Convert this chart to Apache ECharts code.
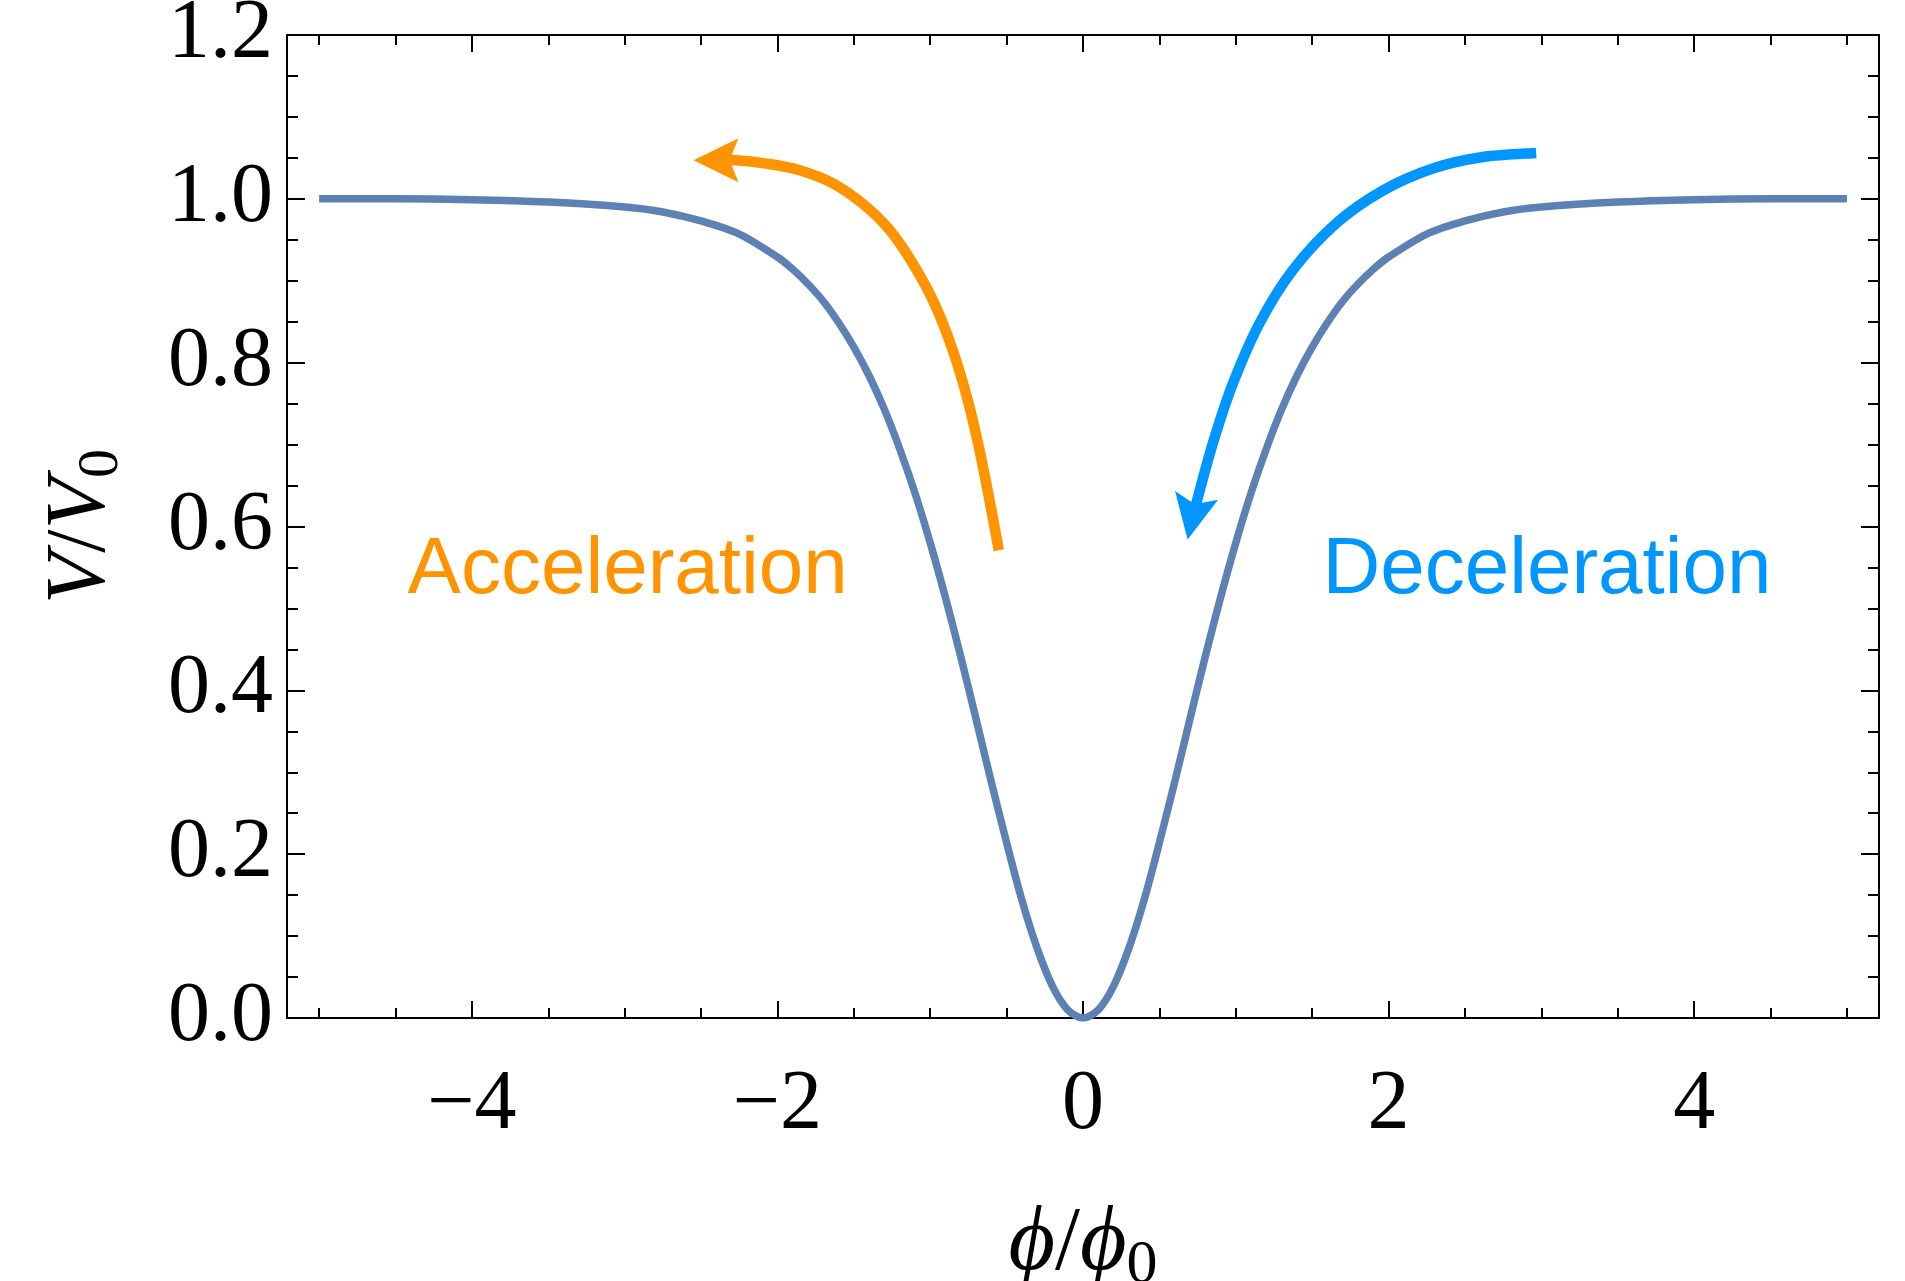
<!DOCTYPE html>
<html><head><meta charset="utf-8">
<script src="https://cdn.jsdelivr.net/npm/echarts@6/dist/echarts.min.js"></script>
<style>html,body{margin:0;padding:0;background:#fff}#c{width:1905px;height:1281px}</style>
</head><body><div id="c"></div>
<script>
// ---- data ----
const phi = [-5,-4.5,-4,-3.5,-3,-2.75,-2.5,-2.25,-2,-1.9,-1.8,-1.7,-1.6,-1.5,-1.4,-1.3,-1.2,-1.1,-1,-0.9,-0.8,-0.7,-0.6,-0.5,-0.4,-0.3,-0.2,-0.1,0,
             0.1,0.2,0.3,0.4,0.5,0.6,0.7,0.8,0.9,1,1.1,1.2,1.3,1.4,1.5,1.6,1.7,1.8,1.9,2,2.25,2.5,2.75,3,3.5,4,4.5,5];
const V   = [1.000,1.000,0.999,0.996,0.990,0.984,0.973,0.957,0.929,0.914,0.896,0.875,0.849,0.819,0.784,0.743,0.695,0.641,0.580,0.513,0.441,0.365,0.288,0.214,0.144,0.085,0.039,0.010,0,
             0.010,0.039,0.085,0.144,0.214,0.288,0.365,0.441,0.513,0.580,0.641,0.695,0.743,0.784,0.819,0.849,0.875,0.896,0.914,0.929,0.957,0.973,0.984,0.990,0.996,0.999,1.000,1.000];

const accelArrowX = [-0.551,-0.612,-0.677,-0.754,-0.852,-0.972,-1.114,-1.266,-1.441,-1.637,-1.855,-2.073,-2.270,-2.402];
const accelArrowY = [0.571,0.632,0.693,0.754,0.815,0.872,0.921,0.962,0.994,1.019,1.035,1.043,1.047,1.047];
const decelArrowX = [2.966,2.617,2.289,1.962,1.657,1.373,1.155,0.980,0.849,0.741,0.714];
const decelArrowY = [1.056,1.051,1.037,1.010,0.970,0.913,0.848,0.774,0.701,0.628,0.611];

const xTickLabels = [-4,-2,0,2,4];
const yTickLabels = [0,0.2,0.4,0.6,0.8,1.0,1.2];
const annotationTexts = ['Acceleration','Deceleration'];

// ---- styles / layout ----
const BLACK = '#000';
const ORANGE = '#FF9300';
const BLUE = '#0096FF';
const CURVE = '#5E81B5';
const SERIF = '"Liberation Serif","Times New Roman",serif';
const SANS = '"Liberation Sans",Arial,Helvetica,sans-serif';
const ARROW_HEAD = 'path://M22,0 L44,45 L22,36 L0,45 Z';

const pairs = (xs, ys) => xs.map((x, i) => [x, ys[i]]);
const arrowPaths = [pairs(accelArrowX, accelArrowY), pairs(decelArrowX, decelArrowY)];
const arrowColors = [ORANGE, BLUE];

// smooth curve (Catmull-Rom) through pixel points given by the axes
function smoothPath(pts) {
  let d = 'M' + pts[0][0] + ',' + pts[0][1];
  for (let i = 0; i < pts.length - 1; i++) {
    const p0 = pts[i - 1] || pts[i], p1 = pts[i], p2 = pts[i + 1], p3 = pts[i + 2] || pts[i + 1];
    const c1 = [p1[0] + (p2[0] - p0[0]) / 6, p1[1] + (p2[1] - p0[1]) / 6];
    const c2 = [p2[0] - (p3[0] - p1[0]) / 6, p2[1] - (p3[1] - p1[1]) / 6];
    d += ' C' + c1[0] + ',' + c1[1] + ' ' + c2[0] + ',' + c2[1] + ' ' + p2[0] + ',' + p2[1];
  }
  return d;
}

const chart = echarts.init(document.getElementById('c'), null, {renderer: 'canvas'});

const tickCommon = {
  axisLine: {show: true, onZero: false, lineStyle: {color: BLACK, width: 2}},
  axisTick: {show: true, inside: true, lineStyle: {color: BLACK, width: 2}},
  minorTick: {show: true, splitNumber: 4, lineStyle: {color: BLACK, width: 2}},
  splitLine: {show: false},
  minorSplitLine: {show: false}
};

const yNameRich = {
  i: {fontFamily: SERIF, fontStyle: 'italic', fontSize: 84, lineHeight: 84, verticalAlign: 'top', color: BLACK},
  n: {fontFamily: SERIF, fontSize: 84, lineHeight: 84, verticalAlign: 'top', color: BLACK},
  s: {fontFamily: SERIF, fontSize: 58, verticalAlign: 'top', padding: [33, 0, 0, 0], color: BLACK}
};
const xNameRich = {
  i: {fontFamily: SERIF, fontStyle: 'italic', fontSize: 90, lineHeight: 90, verticalAlign: 'top', color: BLACK},
  n: {fontFamily: SERIF, fontSize: 90, lineHeight: 90, verticalAlign: 'top', color: BLACK},
  s: {fontFamily: SERIF, fontSize: 62, verticalAlign: 'top', padding: [35, 0, 0, 0], color: BLACK}
};

const xFmt = v => xTickLabels.indexOf(v) >= 0 ? (v < 0 ? '\u2212' + Math.abs(v) : String(v)) : '';
const yFmt = v => yTickLabels.some(t => Math.abs(t - v) < 1e-9) ? v.toFixed(1) : '';

const option = {
  animation: false,
  backgroundColor: '#fff',
  grid: {left: 287, right: 26, top: 35, bottom: 263, containLabel: false, outerBoundsMode: 'none'},
  xAxis: [
    Object.assign({}, tickCommon, {
      type: 'value', position: 'bottom', min: -5.21, max: 5.21,
      axisTick: Object.assign({}, tickCommon.axisTick, {length: 17}),
      minorTick: Object.assign({}, tickCommon.minorTick, {length: 10}),
      axisLabel: {show: true, formatter: xFmt, showMinLabel: false, showMaxLabel: false,
        margin: 46, fontFamily: SERIF, fontSize: 84, color: BLACK},
      name: '{i|\u03D5}{n|/}{i|\u03D5}{s|0}', nameLocation: 'middle', nameGap: 182,
      nameTextStyle: {rich: xNameRich, fontFamily: SERIF, fontSize: 90}
    }),
    Object.assign({}, tickCommon, {
      type: 'value', position: 'top', min: -5.21, max: 5.21,
      axisTick: Object.assign({}, tickCommon.axisTick, {length: 17}),
      minorTick: Object.assign({}, tickCommon.minorTick, {length: 10}),
      axisLabel: {show: false}
    })
  ],
  yAxis: [
    Object.assign({}, tickCommon, {
      type: 'value', position: 'left', min: 0, max: 1.2, interval: 0.2,
      axisTick: Object.assign({}, tickCommon.axisTick, {length: 18}),
      minorTick: Object.assign({}, tickCommon.minorTick, {length: 11}),
      axisLabel: {show: true, formatter: yFmt, margin: 14, fontFamily: SERIF, fontSize: 84, color: BLACK},
      name: '{i|V}{n|/}{i|V}{s|0}', nameLocation: 'middle', nameGap: 156,
      nameTextStyle: {rich: yNameRich, fontFamily: SERIF, fontSize: 84}
    }),
    Object.assign({}, tickCommon, {
      type: 'value', position: 'right', min: 0, max: 1.2, interval: 0.2,
      axisTick: Object.assign({}, tickCommon.axisTick, {length: 18}),
      minorTick: Object.assign({}, tickCommon.minorTick, {length: 11}),
      axisLabel: {show: false}
    })
  ],
  series: [
    {
      type: 'line', name: 'V', data: pairs(phi, V), showSymbol: false, symbol: 'none',
      smooth: 0.3,
      lineStyle: {color: CURVE, width: 7.5, cap: 'butt', opacity: 1}, z: 3
    },
    {
      type: 'custom', name: 'arrows', coordinateSystem: 'cartesian2d', z: 4,
      data: arrowPaths.map(p => p[0]),
      encode: {x: 0, y: 1},
      renderItem: function (params, api) {
        const pts = arrowPaths[params.dataIndex].map(p => api.coord(p));
        return {
          type: 'path',
          shape: {pathData: smoothPath(pts)},
          style: {fill: 'none', stroke: arrowColors[params.dataIndex], lineWidth: 10.5, lineCap: 'butt', lineJoin: 'round'}
        };
      }
    },
    {
      type: 'scatter', name: 'heads', symbol: ARROW_HEAD, symbolSize: [44, 45], symbolKeepAspect: false, z: 5,
      itemStyle: {opacity: 1},
      data: [
        {value: [accelArrowX[accelArrowX.length - 1], accelArrowY[accelArrowY.length - 1]], symbolRotate: 90, itemStyle: {color: ORANGE, opacity: 1}},
        {value: [decelArrowX[decelArrowX.length - 1], decelArrowY[decelArrowY.length - 1]], symbolRotate: 168.5, itemStyle: {color: BLUE, opacity: 1}}
      ]
    },
    {
      type: 'scatter', name: 'texts', symbolSize: 0, z: 6,
      itemStyle: {opacity: 1},
      label: {show: true, position: 'right', distance: 0, fontFamily: SANS, fontSize: 80, verticalAlign: 'middle', opacity: 1},
      data: [
        {value: [-4.421, 0.546], label: {formatter: annotationTexts[0], color: ORANGE}},
        {value: [1.567, 0.546], label: {formatter: annotationTexts[1], color: BLUE}}
      ]
    }
  ]
};
chart.setOption(option);
</script>
</body></html>
